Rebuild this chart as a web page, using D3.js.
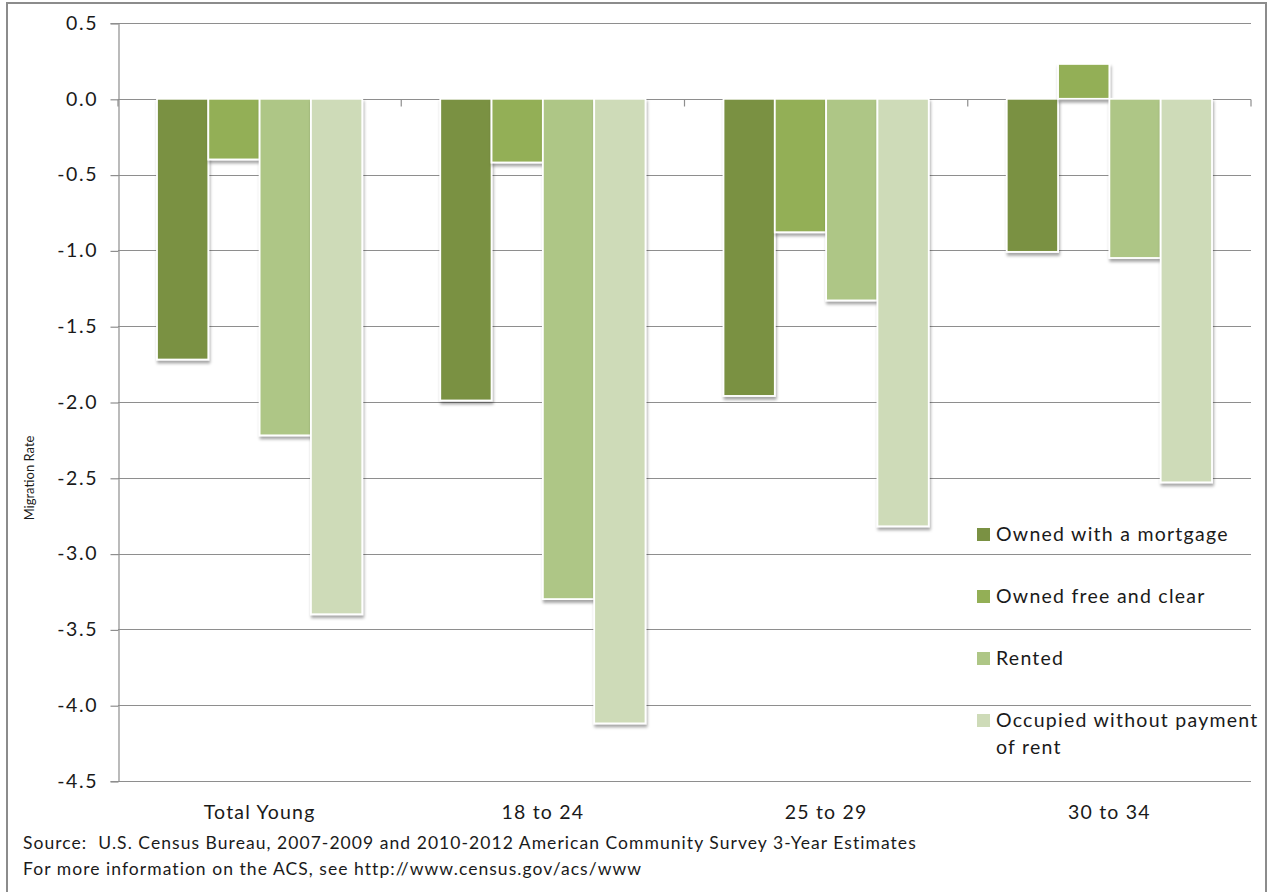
<!DOCTYPE html>
<html>
<head>
<meta charset="utf-8">
<script src="https://cdn.jsdelivr.net/npm/d3@7"></script>
<style>
  html, body { margin: 0; padding: 0; background: #fff; }
  svg { display: block; font-family: Lato, "Open Sans", sans-serif; }
  text { white-space: pre; }
</style>
</head>
<body>
<svg id="chart" width="1270" height="892"></svg>
<script>
// Migration rate change by housing tenure, young adults
const categories = ["Total Young", "18 to 24", "25 to 29", "30 to 34"];
const seriesNames = ["Owned with a mortgage", "Owned free and clear", "Rented", "Occupied without payment of rent"];
const ownedMortgage = [-1.72, -1.99, -1.96, -1.01];
const ownedFreeClear = [-0.40, -0.42, -0.88, 0.23];
const rented = [-2.22, -3.30, -1.33, -1.05];
const occupiedNoRent = [-3.40, -4.12, -2.82, -2.53];
const seriesColors = ["#7a9143", "#93af56", "#aec686", "#cedbb8"];
const yTicks = [0.5, 0.0, -0.5, -1.0, -1.5, -2.0, -2.5, -3.0, -3.5, -4.0, -4.5];
const sourceLines = [
  "Source:  U.S. Census Bureau, 2007-2009 and 2010-2012 American Community Survey 3-Year Estimates",
  "For more information on the ACS, see http://www.census.gov/acs/www"
];

const seriesValues = [ownedMortgage, ownedFreeClear, rented, occupiedNoRent];

const svg = d3.select("#chart");
const plot = { left: 118, right: 1251, top: 23, bottom: 781 };
const ink = "#1a1a1a";

// Outer chart frame
svg.append("rect")
  .attr("x", 7).attr("y", 3).attr("width", 1259).attr("height", 900)
  .attr("fill", "#fff").attr("stroke", "#8c8c8c").attr("stroke-width", 2);

// Drop shadow for bars
const defs = svg.append("defs");
const f = defs.append("filter").attr("id", "barShadow")
  .attr("x", "-20%").attr("y", "-20%").attr("width", "150%").attr("height", "150%");
f.append("feDropShadow")
  .attr("dx", 1).attr("dy", 3).attr("stdDeviation", 1.8)
  .attr("flood-color", "#000").attr("flood-opacity", 0.35);

const y = d3.scaleLinear().domain([-4.5, 0.5]).range([plot.bottom, plot.top]);
const x0 = d3.scaleBand().domain(categories).range([plot.left, plot.right]).padding(0);
const x1 = d3.scaleBand().domain(d3.range(seriesNames.length))
  .range([0, x0.bandwidth()]).paddingInner(0).paddingOuter(0.76);

// Horizontal gridlines
svg.append("g").selectAll("line")
  .data(yTicks)
  .join("line")
  .attr("x1", plot.left).attr("x2", plot.right)
  .attr("y1", d => Math.round(y(d)) + 0.5).attr("y2", d => Math.round(y(d)) + 0.5)
  .attr("stroke", "#8e8e8e").attr("stroke-width", 1.2);

// Value axis
const yAxis = d3.axisLeft(y).tickValues(yTicks).tickSize(8).tickPadding(14)
  .tickFormat(d3.format(".1f"));
const gy = svg.append("g").attr("transform", `translate(${plot.left + 0.5},0)`).call(yAxis);
gy.select(".domain").attr("stroke", "#8e8e8e").attr("stroke-width", 1.2);
gy.selectAll(".tick line").attr("stroke", "#8e8e8e").attr("stroke-width", 1.2)
  .attr("transform", "translate(0,0.5)");
gy.selectAll(".tick text")
  .attr("font-size", 19.5).attr("fill", ink)
  .attr("font-family", "Lato, sans-serif")
  .attr("letter-spacing", 1.6)
  .attr("dx", 1.6)
  .text(d => d3.format(".1f")(d).replace("−", "-"));

// Category axis at zero with boundary ticks pointing down
const zeroY = Math.round(y(0)) + 0.5;
svg.append("g").selectAll("line")
  .data(d3.range(categories.length + 1))
  .join("line")
  .attr("x1", i => i < categories.length ? x0(categories[i]) : plot.right)
  .attr("x2", i => i < categories.length ? x0(categories[i]) : plot.right)
  .attr("y1", zeroY).attr("y2", zeroY + 7)
  .attr("stroke", "#8e8e8e").attr("stroke-width", 1.2);

// Bars
const groups = svg.append("g").selectAll("g")
  .data(categories)
  .join("g")
  .attr("transform", d => `translate(${x0(d)},0)`);

groups.selectAll("rect")
  .data((c, ci) => seriesValues.map((vals, si) => ({ si, v: vals[ci] })))
  .join("rect")
  .attr("x", d => x1(d.si))
  .attr("width", x1.bandwidth())
  .attr("y", d => y(Math.max(0, d.v)))
  .attr("height", d => Math.abs(y(d.v) - y(0)))
  .attr("fill", d => seriesColors[d.si])
  .attr("stroke", "#ffffff").attr("stroke-width", 1.8)
  .attr("filter", "url(#barShadow)");

// Category labels
svg.append("g").selectAll("text")
  .data(categories)
  .join("text")
  .attr("x", d => x0(d) + x0.bandwidth() / 2)
  .attr("y", 819)
  .attr("text-anchor", "middle")
  .attr("font-size", 19.5).attr("fill", ink)
  .attr("letter-spacing", 1.2)
  .text(d => d);

// Value axis title
svg.append("text")
  .attr("transform", "translate(34,478) rotate(-90)")
  .attr("text-anchor", "middle")
  .attr("font-size", 13).attr("fill", ink)
  .text("Migration Rate");

// Legend
const legendRows = [
  { si: 0, lines: ["Owned with a mortgage"], cy: 534 },
  { si: 1, lines: ["Owned free and clear"], cy: 596 },
  { si: 2, lines: ["Rented"], cy: 658 },
  { si: 3, lines: ["Occupied without payment", "of rent"], cy: 720 }
];
const lg = svg.append("g").selectAll("g").data(legendRows).join("g");
lg.append("rect")
  .attr("x", 977).attr("y", d => d.cy - 6).attr("width", 13).attr("height", 13)
  .attr("fill", d => seriesColors[d.si]);
lg.each(function (d) {
  const t = d3.select(this).append("text")
    .attr("font-size", 19.5).attr("fill", ink)
    .attr("letter-spacing", 1.25);
  d.lines.forEach((ln, i) => {
    t.append("tspan").attr("x", 996).attr("y", d.cy + 7 + i * 27).text(ln);
  });
});

// Source note
svg.append("g").selectAll("text")
  .data(sourceLines)
  .join("text")
  .attr("x", 23).attr("y", (d, i) => 849 + i * 26)
  .attr("font-size", 17.5).attr("fill", ink)
  .attr("letter-spacing", 1.05)
  .text(d => d);
</script>
</body>
</html>
